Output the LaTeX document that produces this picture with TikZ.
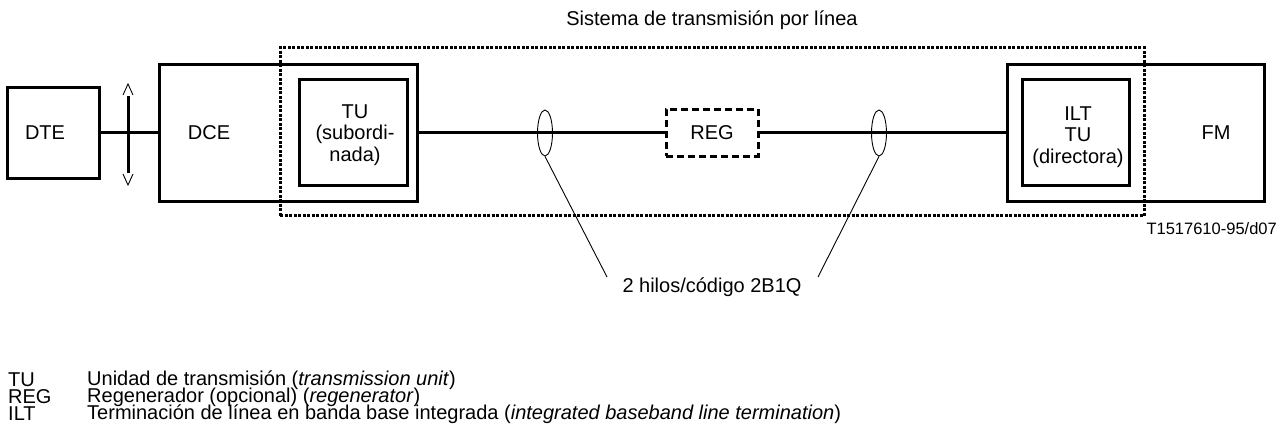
\documentclass[tikz,border=0pt]{standalone}
\usepackage{fontspec}
\setmainfont{Liberation Sans}
\usetikzlibrary{shapes.geometric}
\begin{document}
\begin{tikzpicture}[x=1pt,y=-1pt,
  txt/.style={font=\fontsize{20}{21.5}\selectfont,inner sep=0pt,align=center},
  box/.style={draw,line width=3pt,inner sep=0pt},
  wire/.style={line width=3pt},
  thinline/.style={line width=0.9pt},
  ell/.style={draw,thinline,ellipse,inner sep=0pt,minimum width=15pt,minimum height=46pt},
  legabbr/.style={txt,anchor=west},
  legtext/.style={txt,anchor=west}]
\useasboundingbox (0,0) rectangle (1282,443);
% title
\node[txt] (title) at (712,20) {Sistema de transmisión por línea};
% dotted system boundary
\node[draw,line width=3pt,dash pattern=on 3pt off 1.5pt,minimum width=864pt,minimum height=168pt,inner sep=0pt] (sys) at (712,132) {};
% boxes
\node[box,minimum width=92pt,minimum height=91pt] (dte) at (53,133) {};
\node[txt] (dtelbl) at (45,133) {DTE};
\node[box,minimum width=258pt,minimum height=137pt] (dce) at (288,133) {};
\node[txt] (dcelbl) at (209,133) {DCE};
\node[box,minimum width=108pt,minimum height=106pt] (tu) at (353,133) {};
\node[txt] (tulbl) at (355,135) {TU\\(subordi-\\nada)};
\node[box,dash pattern=on 7pt off 4pt,minimum width=92pt,minimum height=47pt] (reg) at (712,133) {};
\node[txt] (reglbl) at (712,133) {REG};
\node[box,minimum width=257pt,minimum height=137pt] (ilt) at (1135.5,133) {};
\node[box,minimum width=107pt,minimum height=106pt] (ilttu) at (1075.5,133) {};
\node[txt] (iltlbl) at (1078,137) {ILT\\TU\\(directora)};
\node[txt] (fm) at (1216,133) {FM};
% wires
\draw[wire] (dte.east) -- (dce.west);
\draw[wire] (dce.east) -- (reg.west);
\draw[wire] (reg.east) -- (ilt.west);
% interface arrow
\coordinate (va) at (128,96);
\coordinate (vb) at (128,173);
\coordinate (vt) at (128,84);
\coordinate (vbt) at (128,185);
\draw[wire] (va) -- (vb);
\draw[thinline] ([xshift=-5pt,yshift=-11pt]vt) -- (vt) -- ([xshift=5pt,yshift=-11pt]vt);
\draw[thinline] ([xshift=-5pt,yshift=11pt]vbt) -- (vbt) -- ([xshift=5pt,yshift=11pt]vbt);
% wire pair markers
\node[ell] (e1) at (545,133) {};
\node[ell] (e2) at (879,133) {};
\coordinate (l1) at (607,277);
\coordinate (l2) at (818,277);
\draw[thinline] (e1.south) -- (l1);
\draw[thinline] (e2.south) -- (l2);
\node[txt] (hilos) at (712,287) {2 hilos/código 2B1Q};
\node[txt,font=\fontsize{16.5}{19}\selectfont,anchor=east] (code) at (1277,229) {T1517610-95/d07};
% legend
\node[legabbr] (a1) at (8,380) {TU};
\node[legtext] (d1) at (87,380) {Unidad de transmisión (\textit{transmission unit})};
\node[legabbr] (a2) at (8,397) {REG};
\node[legtext] (d2) at (87,397) {Regenerador (opcional) (\textit{regenerator})};
\node[legabbr] (a3) at (8,414) {ILT};
\node[legtext] (d3) at (87,414) {Terminación de línea en banda base integrada (\textit{integrated baseband line termination})};
\end{tikzpicture}
\end{document}
